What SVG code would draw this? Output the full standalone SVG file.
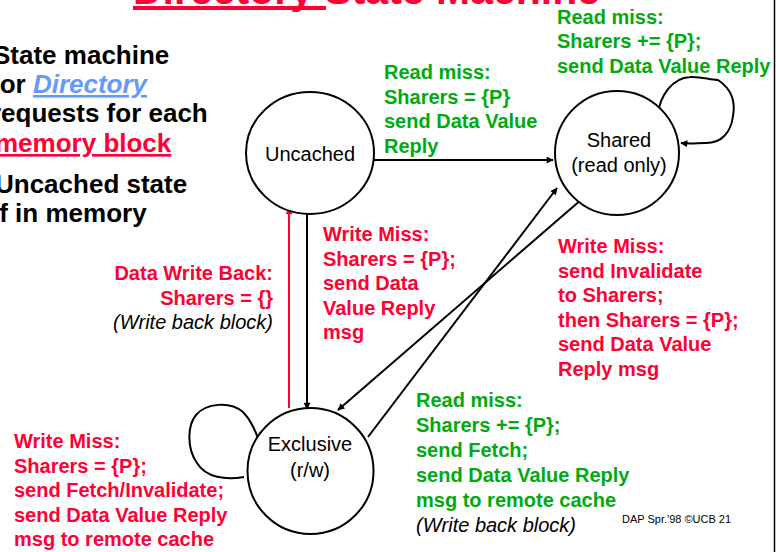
<svg xmlns="http://www.w3.org/2000/svg" width="776" height="552" viewBox="0 0 776 552">
<style>
text{font-family:"Liberation Sans",Arial,sans-serif}
.b{font-weight:bold}
.big{font-size:26px;font-weight:bold;fill:#000}
.lab{font-size:20px;font-weight:bold}
.g{fill:#00AA11}
.r{fill:#FF0033}
.it{font-size:20px;font-style:italic;fill:#000}
.node{fill:#fff;stroke:#000;stroke-width:2}
.nt{font-size:20px;fill:#000;text-anchor:middle}
.c{fill:none;stroke:#000;stroke-width:2}
.cr{fill:none;stroke:#FF0033;stroke-width:2}
</style>
<defs>
<marker id="ah" viewBox="0 0 10 10" refX="9" refY="5" markerWidth="9" markerHeight="7" markerUnits="userSpaceOnUse" orient="auto"><path d="M0,0 L10,5 L0,10 z" fill="#000"/></marker>
<marker id="ahr" viewBox="0 0 10 10" refX="9" refY="5" markerWidth="9" markerHeight="7" markerUnits="userSpaceOnUse" orient="auto"><path d="M0,0 L10,5 L0,10 z" fill="#FF0033"/></marker>
</defs>
<rect width="776" height="552" fill="#fff"/>
<line x1="774.5" y1="0" x2="774.5" y2="552" stroke="#000" stroke-width="1.5"/>
<g id="title">
<text x="133" y="4" class="b r" style="font-size:41px">Directory State Machine</text>
<rect x="133" y="6" width="193" height="4" fill="#FF0033"/>
</g>
<g id="bullets">
<text x="-7" y="64" class="big">State machine</text>
<text x="-9" y="93" class="big">for <tspan style="fill:#6699FF;font-style:italic;text-decoration:underline">Directory</tspan></text>
<text x="-9" y="122" class="big">requests for each</text>
<text x="-5" y="152" class="big" style="fill:#FF0033;text-decoration:underline">memory block</text>
<text x="-5" y="193" class="big">Uncached state</text>
<text x="-8" y="222" class="big">if in memory</text>
</g>
<g id="connectors">
<line x1="374" y1="160" x2="553" y2="160" class="c" marker-end="url(#ah)"/>
<line x1="307" y1="214" x2="307" y2="409" class="c" marker-end="url(#ah)"/>
<line x1="289" y1="408" x2="289" y2="208" class="cr" marker-end="url(#ahr)"/>
<line x1="582" y1="199" x2="338" y2="410" class="c" marker-end="url(#ah)"/>
<line x1="368" y1="437" x2="557" y2="188" class="c" marker-end="url(#ah)"/>
<path d="M658,114 C660,96 672,78 690,77 C700,76 710,80 718,80 C730,88 736,100 733,116 C731,132 722,143 706,143 C697,143 690,144 681,143" class="c" marker-end="url(#ah)"/>
<path d="M244,477 C226,480 206,478 197,463 C187,449 187,426 196,415 C206,403 230,401 243,412 C252,421 256,433 261,446" class="c" marker-end="url(#ah)"/>
</g>
<g id="uncached">
<ellipse cx="310" cy="153" rx="64" ry="61" class="node"/>
<text x="310" y="161" class="nt">Uncached</text>
</g>
<g id="shared">
<circle cx="617" cy="153" r="62" class="node"/>
<text x="619" y="147" class="nt">Shared</text>
<text x="619" y="172" class="nt">(read only)</text>
</g>
<g id="exclusive">
<circle cx="310.5" cy="471" r="63" class="node"/>
<text x="310" y="451" class="nt">Exclusive</text>
<text x="310" y="477" class="nt">(r/w)</text>
</g>
<g id="labels">
<text class="lab g"><tspan x="384" y="79">Read miss:</tspan><tspan x="384" y="103.5">Sharers = {P}</tspan><tspan x="384" y="128">send Data Value</tspan><tspan x="384" y="152.5">Reply</tspan></text>
<text class="lab g"><tspan x="557" y="23.5">Read miss:</tspan><tspan x="557" y="48">Sharers += {P};</tspan><tspan x="557" y="72.5">send Data Value Reply</tspan></text>
<text class="lab r"><tspan x="323" y="241">Write Miss:</tspan><tspan x="323" y="265.5">Sharers = {P};</tspan><tspan x="323" y="290">send Data</tspan><tspan x="323" y="314.5">Value Reply</tspan><tspan x="323" y="339">msg</tspan></text>
<text class="lab r"><tspan x="558" y="253">Write Miss:</tspan><tspan x="558" y="277.5">send Invalidate</tspan><tspan x="558" y="302">to Sharers;</tspan><tspan x="558" y="326.5">then Sharers = {P};</tspan><tspan x="558" y="351">send Data Value</tspan><tspan x="558" y="375.5">Reply msg</tspan></text>
<text class="lab r" text-anchor="end"><tspan x="273" y="280">Data Write Back:</tspan><tspan x="273" y="304.5">Sharers = {}</tspan></text>
<text class="it" text-anchor="end" x="273" y="329">(Write back block)</text>
<text class="lab r"><tspan x="14" y="448">Write Miss:</tspan><tspan x="14" y="472.5">Sharers = {P};</tspan><tspan x="14" y="497">send Fetch/Invalidate;</tspan><tspan x="14" y="521.5">send Data Value Reply</tspan><tspan x="14" y="546">msg to remote cache</tspan></text>
<text class="lab g"><tspan x="416" y="407">Read miss:</tspan><tspan x="416" y="432">Sharers += {P};</tspan><tspan x="416" y="457">send Fetch;</tspan><tspan x="416" y="482">send Data Value Reply</tspan><tspan x="416" y="507">msg to remote cache</tspan></text>
<text class="it" x="416" y="532">(Write back block)</text>
<text x="622" y="523" style="font-size:11px;fill:#000">DAP Spr.'98 ©UCB 21</text>
</g>
</svg>
